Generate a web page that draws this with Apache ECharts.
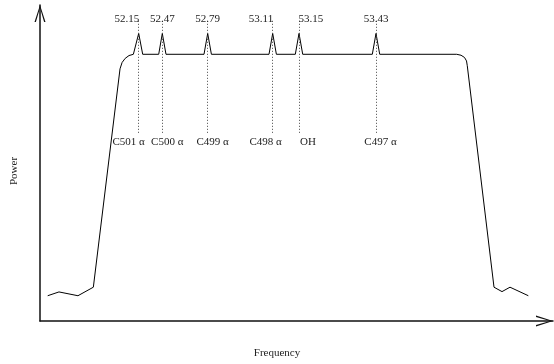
<!DOCTYPE html>
<html>
<head>
<meta charset="utf-8">
<script src="https://cdn.jsdelivr.net/npm/echarts@6/dist/echarts.min.js"></script>
<style>html,body{margin:0;padding:0;background:#fff;}#c{width:554px;height:364px;}</style>
</head>
<body>
<div id="c"></div>
<script>
// Spectrum trace (arbitrary frequency units 0-100, arbitrary power units 0-100)
const freq  = [1.5, 3.7, 7.4, 10.4, 15.6, 16.0, 16.6, 17.35, 18.2,
               18.58, 19.24, 20.02, 23.14, 23.84, 24.56, 31.97, 32.69, 33.41,
               44.64, 45.36, 46.08, 49.77, 50.49, 51.21, 64.78, 65.50, 66.22,
               81.23, 82.07, 82.75, 83.14, 83.29, 88.50, 90.06, 91.62, 95.19];
const power = [8.0, 9.2, 8.0, 10.7, 79.8, 81.8, 83.1, 84.0, 84.4,
               84.4, 91.0, 84.4, 84.4, 91.0, 84.4, 84.4, 91.0, 84.4,
               84.4, 91.0, 84.4, 84.4, 91.0, 84.4, 84.4, 91.0, 84.4,
               84.4, 84.1, 83.4, 82.3, 80.8, 10.7, 9.3, 10.7, 8.0];
// Identified lines
const peakFreq   = [19.24, 23.84, 32.69, 45.36, 50.49, 65.50];
const peakPower  = [91.0, 91.0, 91.0, 91.0, 91.0, 91.0];
const peakValues = ['52.15', '52.47', '52.79', '53.11', '53.15', '53.43'];
const peakNames  = ['C501 \u03b1', 'C500 \u03b1', 'C499 \u03b1', 'C498 \u03b1', 'OH', 'C497 \u03b1'];
const markerTop = 95.0;     // power level where dotted markers start
const markerBottom = 59.0;  // power level where dotted markers end

// styling of label placement (not data)
const topAlign = ['right', 'center', 'center', 'right', 'left', 'center'];
const bottomShift = [-10, 5, 5, -7, 9, 4.5];

const FONT = '"Liberation Serif", "Times New Roman", serif';
const arrow = 'path://M5.5,0 L11,17 L9.6,17 L5.5,3 L1.4,17 L0,17 Z';

const chart = echarts.init(document.getElementById('c'), null, {renderer: 'canvas'});
const lineData = freq.map((f, i) => [f, power[i]]);

const markPts = [];
peakFreq.forEach((f, i) => {
  markPts.push({
    coord: [f, peakPower[i]],
    symbolSize: 0,
    label: {
      show: true, formatter: peakValues[i], position: 'top', distance: 9,
      align: topAlign[i],
      offset: [topAlign[i] === 'right' ? 0.5 : (topAlign[i] === 'left' ? -0.5 : 0), 0]
    }
  });
  markPts.push({
    coord: [f, markerBottom],
    symbolSize: 0,
    label: {
      show: true, formatter: peakNames[i], position: 'bottom', distance: 2,
      offset: [bottomShift[i], 0]
    }
  });
});

chart.setOption({
  animation: false,
  backgroundColor: '#fff',
  grid: {left: 40, right: 1, top: 5, bottom: 37, containLabel: false},
  xAxis: {
    type: 'value', min: 0, max: 100,
    name: 'Frequency', nameLocation: 'middle', nameGap: 27,
    nameTextStyle: {fontFamily: FONT, fontSize: 11, color: '#222', padding: [0, 39, 0, 0]},
    axisLine: {show: true, symbol: ['none', arrow], symbolSize: [11, 17], symbolOffset: [0, -8.5],
               lineStyle: {color: '#111', width: 1.5}},
    axisTick: {show: false}, axisLabel: {show: false}, splitLine: {show: false}
  },
  yAxis: {
    type: 'value', min: 0, max: 100,
    name: 'Power', nameLocation: 'middle', nameGap: 20,
    nameTextStyle: {fontFamily: FONT, fontSize: 11, color: '#222', padding: [0, 16, 0, 0]},
    axisLine: {show: true, symbol: ['none', arrow], symbolSize: [11, 17], symbolOffset: [0, -8.5],
               lineStyle: {color: '#111', width: 1.5}},
    axisTick: {show: false}, axisLabel: {show: false}, splitLine: {show: false}
  },
  series: [{
    type: 'line',
    data: lineData,
    showSymbol: false,
    symbol: 'none',
    lineStyle: {color: '#000', width: 1},
    z: 3,
    markLine: {
      silent: true, symbol: ['none', 'none'],
      lineStyle: {color: '#444', width: 1, type: [1, 2]},
      label: {show: false},
      data: peakFreq.map(f => [{coord: [f, markerTop]}, {coord: [f, markerBottom]}])
    },
    markPoint: {
      silent: true, symbol: 'circle', symbolSize: 0,
      label: {fontFamily: FONT, fontSize: 11, color: '#222'},
      data: markPts
    }
  }]
});
</script>
</body>
</html>
